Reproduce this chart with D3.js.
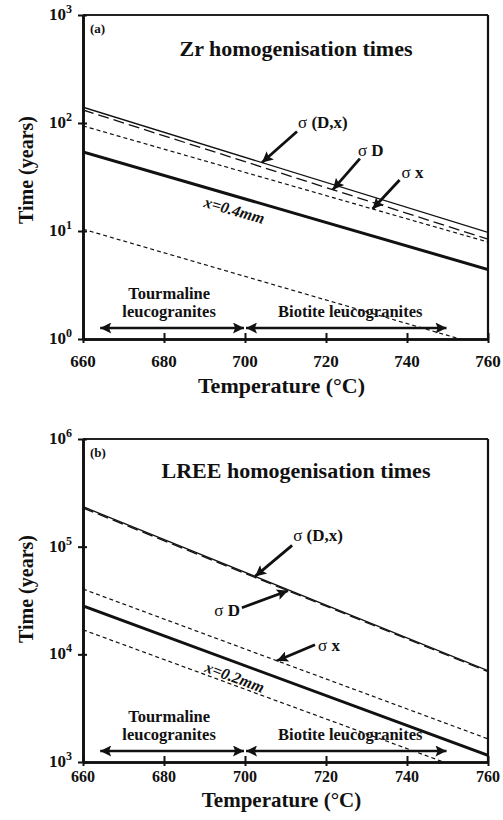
<!DOCTYPE html>
<html>
<head>
<meta charset="utf-8">
<script src="https://cdn.jsdelivr.net/npm/d3@7"></script>
<style>
  html, body { margin: 0; padding: 0; background: #fff; }
  svg text { font-family: 'Liberation Serif', 'Times New Roman', serif; font-weight: bold; fill: #111; }
</style>
</head>
<body>
<div id="chart"></div>
<script>
// temperatures (°C) at which each line is read
const temps = [660, 760];
const xTicks = [660, 680, 700, 720, 740, 760];

// (a) Zr homogenisation times (years)
const zrSigmaDx = [140, 9.7];
const zrSigmaD = [132, 8.4];
const zrSigmaX = [94, 7.9];
const zrX04 = [54, 4.4];
const zrLower = [10.4, 0.84];
const zrTicks = [1, 10, 100, 1000];

// (b) LREE homogenisation times (years)
const lreeSigmaDx = [235000, 7050];
const lreeSigmaD = [229000, 6900];
const lreeSigmaX = [40400, 1640];
const lreeX02 = [28200, 1150];
const lreeLower = [16900, 705];
const lreeTicks = [1e3, 1e4, 1e5, 1e6];

// granite temperature ranges
const tourmalineRange = [664, 700];
const biotiteRange = [700, 750];

const width = 503;
const height = 820;
const marginLeft = 83;
const marginRight = 15;

const svg = d3
  .select('#chart')
  .append('svg')
  .attr('width', width)
  .attr('height', height)
  .attr('viewBox', [0, 0, width, height]);

const defs = svg.append('defs');
defs
  .append('marker')
  .attr('id', 'head')
  .attr('viewBox', '0 0 10 10')
  .attr('refX', 10)
  .attr('refY', 5)
  .attr('markerUnits', 'userSpaceOnUse')
  .attr('markerWidth', 17)
  .attr('markerHeight', 11)
  .attr('orient', 'auto-start-reverse')
  .append('path')
  .attr('d', 'M0,0 L10,5 L0,10 L2,5 Z')
  .attr('fill', '#111');

const xScale = d3.scaleLinear([660, 760], [marginLeft, width - marginRight]);

function supLabel(sel, v) {
  const exp = Math.round(Math.log10(v));
  sel.text(null);
  sel.append('tspan').text('10');
  sel.append('tspan').attr('dy', -7).attr('font-size', 12).text(exp);
}

function drawPanel(cfg) {
  const { top, bottom, domain, ticks, series, tag, title, arrows, xLabel, xLabelT } = cfg;
  const yScale = d3.scaleLog(domain, [bottom, top]);
  const g = svg.append('g');

  g.append('defs')
    .append('clipPath')
    .attr('id', `clip-${tag}`)
    .append('rect')
    .attr('x', marginLeft)
    .attr('y', top)
    .attr('width', xScale.range()[1] - marginLeft)
    .attr('height', bottom - top);

  // frame
  g.append('line')
    .attr('x1', marginLeft).attr('x2', xScale.range()[1])
    .attr('y1', top).attr('y2', top)
    .attr('stroke', '#222').attr('stroke-width', 2);
  g.append('line')
    .attr('x1', xScale.range()[1]).attr('x2', xScale.range()[1])
    .attr('y1', top).attr('y2', bottom)
    .attr('stroke', '#111').attr('stroke-width', 2.2);

  // axes: inner + outer tick halves
  const gx = g.append('g').attr('transform', `translate(0,${bottom})`);
  gx.call(d3.axisBottom(xScale).tickValues(xTicks).tickSize(-6).tickSizeOuter(0).tickFormat(''));
  gx.append('g').call(d3.axisBottom(xScale).tickValues(xTicks).tickSize(4).tickSizeOuter(0).tickFormat(''));
  gx.selectAll('.domain').attr('stroke-width', 2.6).attr('stroke', '#111');
  gx.selectAll('.tick line').attr('stroke-width', 2).attr('stroke', '#111');
  gx.selectAll('.xt')
    .data(xTicks)
    .join('text')
    .attr('class', 'xt')
    .attr('x', (d) => xScale(d))
    .attr('y', cfg.xTickDy)
    .attr('text-anchor', 'middle')
    .attr('font-size', cfg.xTickSize)
    .text((d) => d);

  const gy = g.append('g').attr('transform', `translate(${marginLeft},0)`);
  gy.call(d3.axisLeft(yScale).tickValues(ticks).tickSize(5).tickSizeOuter(0).tickFormat(''));
  gy.append('g').call(d3.axisLeft(yScale).tickValues(ticks).tickSize(-4).tickSizeOuter(0).tickFormat(''));
  gy.selectAll('.domain').attr('stroke-width', 2.6).attr('stroke', '#111');
  gy.selectAll('.tick line').attr('stroke-width', 2).attr('stroke', '#111');
  gy.selectAll('.yt')
    .data(ticks)
    .join('text')
    .attr('class', 'yt')
    .attr('x', -11)
    .attr('y', (d) => yScale(d) + 5)
    .attr('text-anchor', 'end')
    .attr('font-size', 17)
    .each(function (d) { supLabel(d3.select(this), d); });

  // data lines
  const line = d3
    .line()
    .x((d) => xScale(d[0]))
    .y((d) => yScale(d[1]));
  const plot = g.append('g').attr('clip-path', `url(#clip-${tag})`);
  plot
    .selectAll('path')
    .data(series)
    .join('path')
    .attr('fill', 'none')
    .attr('stroke', '#111')
    .attr('stroke-width', (d) => d.w)
    .attr('stroke-dasharray', (d) => d.dash)
    .attr('d', (d) => line(d3.zip(temps, d.values)));

  // panel letter and title
  g.append('text').attr('x', 90).attr('y', top + 18).attr('font-size', 13).text(tag === 'a' ? '(a)' : '(b)');
  g.append('text')
    .attr('x', 296)
    .attr('y', top + cfg.titleDy)
    .attr('text-anchor', 'middle')
    .attr('font-size', 22)
    .text(title);

  // rotated curve label
  const lab = series.find((s) => s.label);
  const t0 = xLabelT;
  const yAt = (s, t) => {
    const f = (t - temps[0]) / (temps[1] - temps[0]);
    return Math.exp(Math.log(s.values[0]) * (1 - f) + Math.log(s.values[1]) * f);
  };
  const ang =
    (Math.atan2(
      yScale(lab.values[1]) - yScale(lab.values[0]),
      xScale(temps[1]) - xScale(temps[0]),
    ) * 180) / Math.PI;
  g.append('text')
    .attr('transform', `translate(${xScale(t0)},${yScale(yAt(lab, t0)) + xLabel}) rotate(${ang})`)
    .attr('text-anchor', 'middle')
    .attr('font-size', 16)
    .attr('font-style', 'italic')
    .text(lab.label);

  // annotation arrows
  arrows.forEach((a) => {
    const s = series[a.idx];
    const tx = xScale(a.t);
    const ty = yScale(yAt(s, a.t));
    g.append('line')
      .attr('x1', tx + a.dx).attr('y1', ty + a.dy)
      .attr('x2', tx).attr('y2', ty)
      .attr('stroke', '#111').attr('stroke-width', 2.8)
      .attr('marker-end', 'url(#head)');
    const tt = g.append('text')
      .attr('x', tx + a.dx + a.lx)
      .attr('y', ty + a.dy + a.ly)
      .attr('font-size', 17)
      .attr('text-anchor', a.anchor || 'start');
    tt.append('tspan').attr('font-weight', 'normal').text('σ');
    tt.append('tspan').text(a.text);
  });

  // granite ranges
  const yArrow = bottom - 11;
  [tourmalineRange, biotiteRange].forEach((r) => {
    g.append('line')
      .attr('x1', xScale(r[0]) + 1).attr('x2', xScale(r[1]) - 1)
      .attr('y1', yArrow).attr('y2', yArrow)
      .attr('stroke', '#111').attr('stroke-width', 2.6)
      .attr('marker-start', 'url(#head)')
      .attr('marker-end', 'url(#head)');
  });
  const tour = g.append('text').attr('text-anchor', 'middle').attr('font-size', 16.5);
  tour.append('tspan').attr('x', xScale(d3.mean(tourmalineRange)) - 3).attr('y', bottom - 40).text('Tourmaline');
  tour.append('tspan').attr('x', xScale(d3.mean(tourmalineRange)) - 3).attr('y', bottom - 22).text('leucogranites');
  g.append('text')
    .attr('x', xScale(d3.mean(biotiteRange)) + 4)
    .attr('y', bottom - 22)
    .attr('text-anchor', 'middle')
    .attr('font-size', 16.5)
    .text('Biotite leucogranites');

  // axis titles
  g.append('text')
    .attr('x', xScale(710) - 4)
    .attr('y', bottom + cfg.xTitleDy)
    .attr('text-anchor', 'middle')
    .attr('font-size', cfg.xTitleSize)
    .text('Temperature (°C)');
  g.append('text')
    .attr('transform', `translate(33,${cfg.yTitleY}) rotate(-90)`)
    .attr('text-anchor', 'middle')
    .attr('font-size', 20)
    .text('Time (years)');
}

drawPanel({
  tag: 'a',
  top: 15,
  bottom: 339,
  domain: [1, 1000],
  ticks: zrTicks,
  title: 'Zr homogenisation times',
  titleDy: 41,
  xTickDy: 28,
  xTickSize: 17,
  xTitleDy: 54,
  xTitleSize: 22,
  yTitleY: 170,
  series: [
    { values: zrSigmaDx, w: 1.3, dash: null },
    { values: zrSigmaD, w: 1.3, dash: '11,5' },
    { values: zrSigmaX, w: 1.2, dash: '4,3' },
    { values: zrX04, w: 3, dash: null, label: 'x=0.4mm' },
    { values: zrLower, w: 1.2, dash: '4,3' },
  ],
  xLabel: 20,
  xLabelT: 697,
  arrows: [
    { idx: 0, t: 704.2, dx: 35, dy: -31, lx: 1, ly: -4, text: ' (D,x)' },
    { idx: 1, t: 721.7, dx: 27, dy: -31, lx: -2, ly: -3, text: ' D' },
    { idx: 2, t: 731.5, dx: 27, dy: -29, lx: 2, ly: -2, text: ' x' },
  ],
});

drawPanel({
  tag: 'b',
  top: 439,
  bottom: 762,
  domain: [1e3, 1e6],
  ticks: lreeTicks,
  title: 'LREE homogenisation times',
  titleDy: 39,
  xTickDy: 20,
  xTickSize: 16,
  xTitleDy: 45,
  xTitleSize: 21,
  yTitleY: 589,
  series: [
    { values: lreeSigmaDx, w: 1.3, dash: null },
    { values: lreeSigmaD, w: 1.3, dash: '11,5' },
    { values: lreeSigmaX, w: 1.2, dash: '4,3' },
    { values: lreeX02, w: 3, dash: null, label: 'x=0.2mm' },
    { values: lreeLower, w: 1.2, dash: '4,3' },
  ],
  xLabel: 21,
  xLabelT: 697,
  arrows: [
    { idx: 0, t: 702.5, dx: 37, dy: -31, lx: 1, ly: -4, text: ' (D,x)' },
    { idx: 1, t: 710.6, dx: -46, dy: 17, lx: -2, ly: 8, text: ' D', anchor: 'end' },
    { idx: 2, t: 707.9, dx: 38, dy: -16, lx: 3, ly: 6, text: ' x' },
  ],
});
</script>
</body>
</html>
